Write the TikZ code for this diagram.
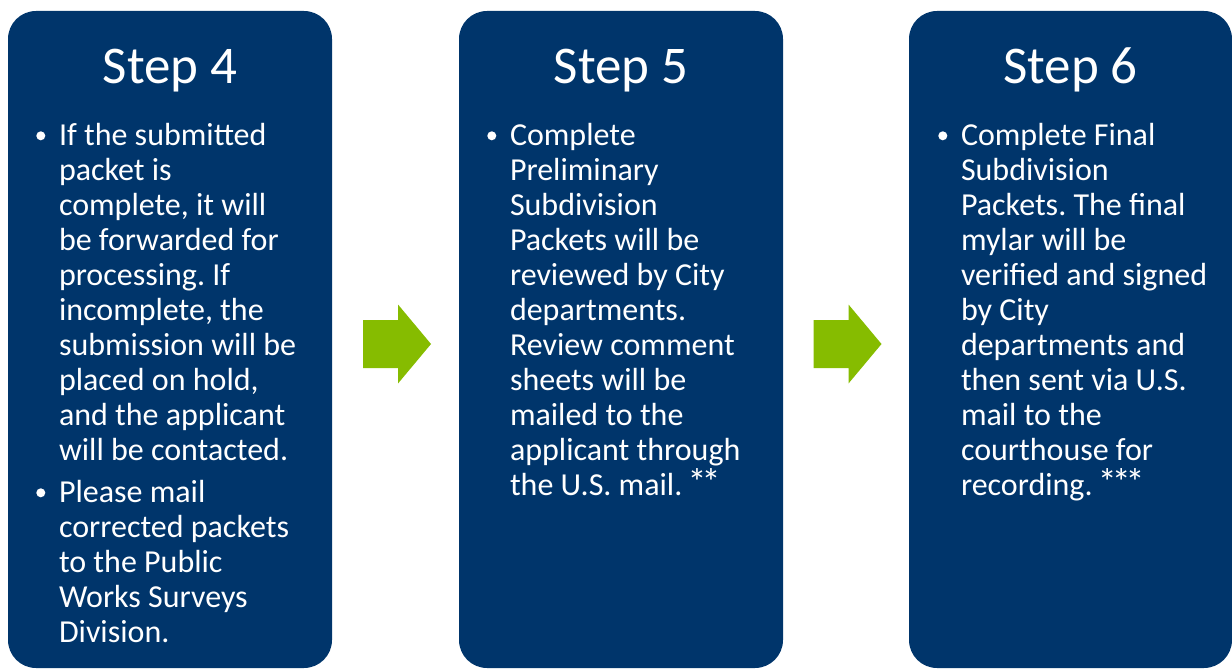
\documentclass[tikz,border=0pt]{standalone}
\usepackage{fontspec}
\setmainfont{Carlito}
\frenchspacing
\usetikzlibrary{positioning,calc}
\definecolor{stepblue}{RGB}{0,53,107}
\definecolor{arrowgreen}{RGB}{134,188,0}
\newcommand{\onestar}{{\fontsize{38}{35}\selectfont *}}
\tikzset{
  stepbox/.style={fill=stepblue,rounded corners=28pt,minimum width=324pt,minimum height=657pt,inner sep=0pt},
  steptitle/.style={text=white,font=\fontsize{53}{60}\selectfont,anchor=base,inner sep=0pt},
  stepbody/.style={text=white,font=\fontsize{32}{35}\selectfont,align=left,anchor=north west,inner sep=0pt},
}
\newcommand{\blockarrow}[1]{%
  \fill[arrowgreen,shift={(#1)}] (-34,-24) -- (1,-24) -- (1,-39.5) -- (34,0) -- (1,39.5) -- (1,24) -- (-34,24) -- cycle;}
\begin{document}
\begin{tikzpicture}[x=1pt,y=-1pt]
  \useasboundingbox (0,0) rectangle (1232,669);
  % boxes
  \node[stepbox] (s4) at (170,339.5) {};
  \node[stepbox] (s5) at (621,339.5) {};
  \node[stepbox,minimum width=323pt] (s6) at (1070.5,339.5) {};
  % titles
  \node[steptitle] (t4) at ([yshift=-73pt]s4.north) {Step 4};
  \node[steptitle] (t5) at ([yshift=-73pt]s5.north) {Step 5};
  \node[steptitle] (t6) at ([yshift=-73pt]s6.north) {Step 6};
  % texts
  \node[stepbody] (b4a) at ([xshift=51pt,yshift=-112pt]s4.north west)
    {If the submitted\\packet is\\complete, it will\\be forwarded for\\processing. If\\incomplete, the\\submission will be\\placed on hold,\\and the applicant\\will be contacted.};
  \node[stepbody] (b4b) at ([xshift=51pt,yshift=-469pt]s4.north west)
    {Please mail\\corrected packets\\to the Public\\Works Surveys\\Division.};
  \node[stepbody] (b5a) at ([xshift=51pt,yshift=-112pt]s5.north west)
    {Complete\\Preliminary\\Subdivision\\Packets will be\\reviewed by City\\departments.\\Review comment\\sheets will be\\mailed to the\\applicant through\\the U.S. mail.\kern-2pt{} \onestar\kern-5pt\onestar};
  \node[stepbody] (b6a) at ([xshift=52pt,yshift=-112pt]s6.north west)
    {Complete Final\\Subdivision\\Packets. The final\\mylar will be\\verified and signed\\by City\\departments and\\then sent via U.S.\\mail to the\\courthouse for\\recording.\kern-2pt{} \onestar\kern-5pt\onestar\kern-5pt\onestar};
  % bullets
  \foreach \b in {b4a,b4b,b5a,b6a}
    \fill[white] ([xshift=-18pt,yshift=-13pt]\b.north west) circle (4.5pt);
  % arrows
  \coordinate (m45) at ($(s4.east)!0.5!(s5.west)+(1.5,4.5)$);
  \coordinate (m56) at ($(s5.east)!0.5!(s6.west)+(1.5,4.5)$);
  \blockarrow{m45}
  \blockarrow{m56}
\end{tikzpicture}
\end{document}
